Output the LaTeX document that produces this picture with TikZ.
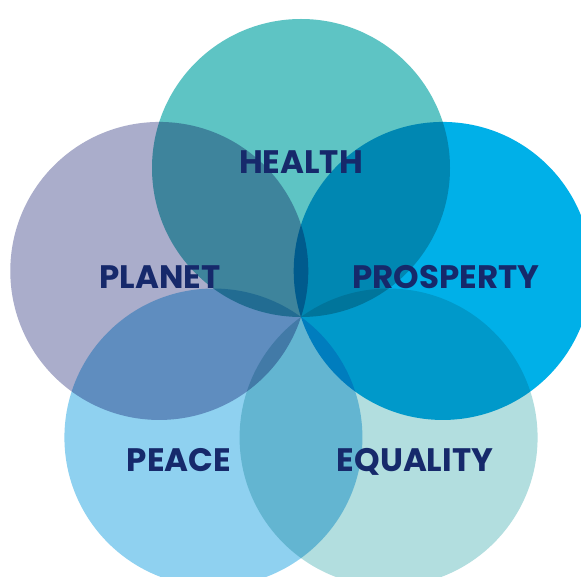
\documentclass[tikz,border=0pt]{standalone}
\usepackage{fontspec}
\newfontfamily\labelfont{Poppins}[UprightFont=* Bold]
\definecolor{healthcol}{HTML}{5EC4C4}
\definecolor{planetcol}{HTML}{AAADCB}
\definecolor{prospcol}{HTML}{00B0E8}
\definecolor{peacecol}{HTML}{8FD1F0}
\definecolor{equalcol}{HTML}{B2DEDF}
\definecolor{navy}{HTML}{16296B}
\tikzset{
    goal/.style={text=navy, font=\labelfont\fontsize{32.5}{32.5}\selectfont, inner sep=0pt, anchor=base}
}
\begin{document}
\begin{tikzpicture}[x=1pt, y=1pt]
        \useasboundingbox (0, 0) rectangle (581, 576);
        \clip (0, 0) rectangle (581, 576);
        \fill[white] (0, 0) rectangle (581, 576);
        \coordinate (mid) at (301, 259);
        
        % ---circles
        \begin{scope}[blend group=multiply]
        \fill[healthcol] (mid) ++(90:149) circle (149);
        \fill[prospcol] (mid) ++(18:149) circle (149);
        \fill[planetcol] (mid) ++(162:149) circle (149);
        \fill[peacecol] (mid) ++(234:149) circle (149);
        \fill[equalcol] (mid) ++(306:149) circle (149);
        \end{scope}
        
        % ---labels
        \node[goal] (health) at (301, 402) {HEALTH};
        \node[goal] (planet) at (160, 287) {PLANET};
        \node[goal] (prosperity) at (446, 287) {PROSPERTY};
        \node[goal] (peace) at (179, 104) {PEACE};
        \node[goal] (equality) at (415, 104) {EQUALITY};
        
    \end{tikzpicture}
\end{document}
